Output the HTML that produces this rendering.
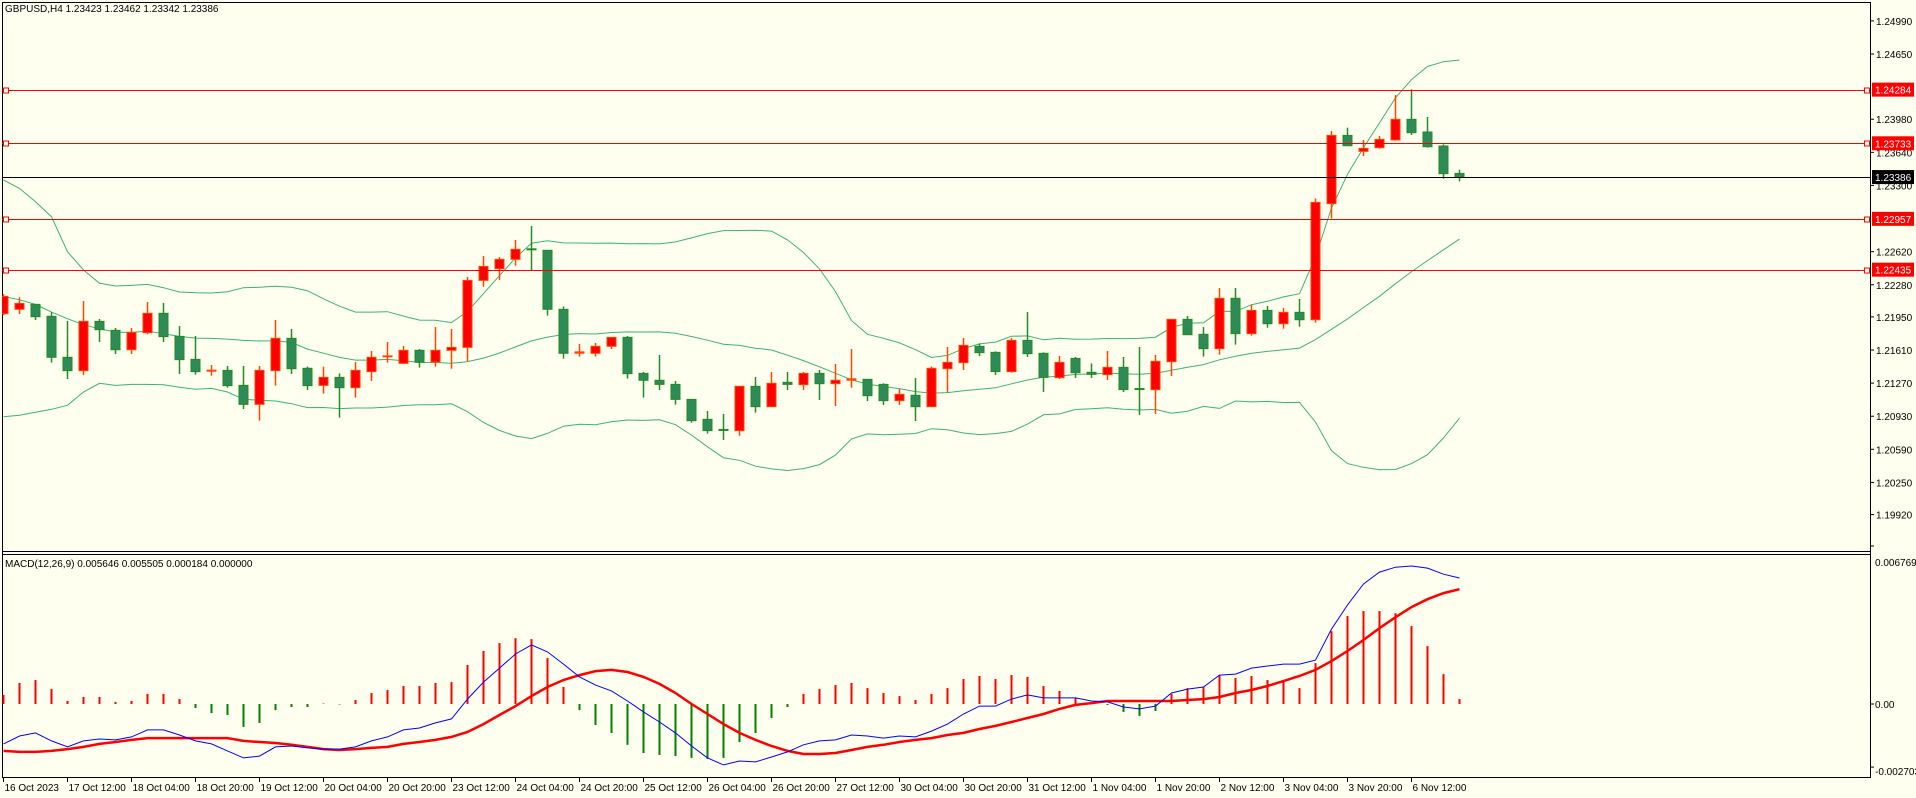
<!DOCTYPE html>
<html><head><meta charset="utf-8"><title>GBPUSD H4</title>
<style>
html,body{margin:0;padding:0;background:#fffff0;overflow:hidden}
svg{display:block;font-family:"Liberation Sans",sans-serif}
</style></head>
<body>
<svg id="chart" xmlns="http://www.w3.org/2000/svg" width="1916" height="798" viewBox="0 0 1916 798">
<rect x="0" y="0" width="1916" height="798" fill="#fffff0"/>
<defs>
<clipPath id="mainClip"><rect x="2" y="2" width="1868" height="549"/></clipPath>
<clipPath id="macdClip"><rect x="2" y="554" width="1868" height="223"/></clipPath>
</defs>
<g id="grid">
<line x1="2.5" y1="2" x2="2.5" y2="777" stroke="#000" stroke-width="1"/>
<line x1="1870.5" y1="2" x2="1870.5" y2="777" stroke="#000" stroke-width="1"/>
<line x1="2" y1="2.5" x2="1871" y2="2.5" stroke="#000" stroke-width="1"/>
<line x1="2" y1="551.5" x2="1871" y2="551.5" stroke="#000" stroke-width="1"/>
<line x1="2" y1="554.5" x2="1871" y2="554.5" stroke="#000" stroke-width="1"/>
<line x1="2" y1="777.5" x2="1871" y2="777.5" stroke="#000" stroke-width="1"/>
</g>
<g id="main" clip-path="url(#mainClip)"></g>
<g id="levels"></g>
<g id="macd" clip-path="url(#macdClip)"></g>
<g id="axes"></g>
<text x="5" y="12" font-size="10" fill="#000">GBPUSD,H4  1.23423 1.23462 1.23342 1.23386</text>
<text x="5" y="567" font-size="10" fill="#000">MACD(12,26,9) 0.005646 0.005505 0.000184 0.000000</text>
</svg>
<script>
const opens=[1.21983,1.22028,1.22079,1.21956,1.21535,1.21398,1.21904,1.21812,1.21613,1.21788,1.21987,1.21750,1.21514,1.21391,1.21401,1.21247,1.21052,1.21398,1.21730,1.21422,1.21247,1.21329,1.21223,1.21388,1.21535,1.21473,1.21607,1.21487,1.21607,1.21637,1.22325,1.22445,1.22541,1.22644,1.22634,1.22028,1.21572,1.21576,1.21648,1.21740,1.21370,1.21299,1.21257,1.21103,1.20898,1.20789,1.20782,1.21237,1.21028,1.21278,1.21254,1.21370,1.21264,1.21295,1.21309,1.21257,1.21090,1.21145,1.21028,1.21418,1.21480,1.21648,1.21586,1.21388,1.21709,1.21576,1.21326,1.21524,1.21381,1.21357,1.21432,1.21209,1.21203,1.21490,1.21925,1.21771,1.21624,1.22141,1.21778,1.22017,1.21880,1.21997,1.21921,1.23113,1.23814,1.23650,1.23688,1.23767,1.23979,1.23849,1.23705,1.23424];
const highs=[1.22185,1.22151,1.22079,1.21997,1.21908,1.22113,1.21928,1.21836,1.21836,1.22103,1.22093,1.21856,1.21754,1.21456,1.21446,1.21446,1.21446,1.21918,1.21826,1.21439,1.21439,1.21370,1.21487,1.21600,1.21692,1.21651,1.21620,1.21846,1.21826,1.22360,1.22575,1.22565,1.22740,1.22883,1.22634,1.22058,1.21672,1.21682,1.21740,1.21754,1.21384,1.21559,1.21292,1.21103,1.20984,1.20953,1.21237,1.21333,1.21384,1.21384,1.21384,1.21405,1.21466,1.21620,1.21309,1.21268,1.21209,1.21323,1.21439,1.21641,1.21733,1.21678,1.21596,1.21733,1.22000,1.21586,1.21548,1.21538,1.21473,1.21600,1.21538,1.21641,1.21559,1.21925,1.21959,1.21846,1.22247,1.22247,1.22076,1.22062,1.22041,1.22134,1.23167,1.23859,1.23893,1.23767,1.23808,1.24229,1.24287,1.24003,1.23722,1.23462];
const lows=[1.21969,1.21980,1.21918,1.21480,1.21312,1.21353,1.21692,1.21569,1.21569,1.21771,1.21692,1.21364,1.21357,1.21346,1.21223,1.21004,1.20884,1.21244,1.21364,1.21199,1.21162,1.20915,1.21121,1.21292,1.21480,1.21466,1.21429,1.21439,1.21418,1.21494,1.22260,1.22329,1.22476,1.22425,1.21963,1.21521,1.21542,1.21542,1.21620,1.21316,1.21121,1.21199,1.21049,1.20864,1.20751,1.20686,1.20730,1.20967,1.21028,1.21199,1.21199,1.21097,1.21035,1.21223,1.21086,1.21045,1.21045,1.20881,1.21028,1.21175,1.21405,1.21548,1.21353,1.21377,1.21538,1.21179,1.21312,1.21323,1.21323,1.21302,1.21179,1.20943,1.20953,1.21343,1.21767,1.21542,1.21562,1.21665,1.21757,1.21839,1.21829,1.21850,1.21891,1.22962,1.23708,1.23602,1.23678,1.23760,1.23818,1.23688,1.23369,1.23342];
const closes=[1.22161,1.22089,1.21952,1.21535,1.21398,1.21904,1.21819,1.21613,1.21791,1.21987,1.21747,1.21511,1.21388,1.21398,1.21244,1.21052,1.21401,1.21730,1.21418,1.21244,1.21329,1.21223,1.21401,1.21535,1.21545,1.21607,1.21483,1.21607,1.21637,1.22325,1.22469,1.22541,1.22644,1.22634,1.22028,1.21576,1.21586,1.21648,1.21740,1.21367,1.21299,1.21257,1.21103,1.20884,1.20782,1.20782,1.21237,1.21028,1.21268,1.21257,1.21370,1.21264,1.21299,1.21309,1.21141,1.21090,1.21155,1.21028,1.21422,1.21483,1.21658,1.21583,1.21388,1.21709,1.21572,1.21329,1.21483,1.21377,1.21360,1.21432,1.21203,1.21203,1.21494,1.21925,1.21767,1.21624,1.22141,1.21778,1.22017,1.21880,1.21997,1.21921,1.23126,1.23814,1.23708,1.23681,1.23773,1.23979,1.23842,1.23698,1.23421,1.23386];
// Bollinger values for first bars (history before chart start)
const bbUpperStart=[1.23356,1.23270,1.23133,1.22979,1.22620,1.22432,1.22295,1.22267,1.22274,1.22284,1.22250,1.22206,1.22199,1.22195,1.22209,1.22250,1.22254,1.22264,1.22254];
const bbMidStart=[1.22160,1.22126,1.22078,1.21999,1.21931,1.21869,1.21828,1.21794,1.21791,1.21804,1.21777,1.21750,1.21732,1.21729,1.21722,1.21709,1.21702,1.21705,1.21688];
const bbLowerStart=[1.20925,1.20939,1.20970,1.21001,1.21042,1.21179,1.21268,1.21247,1.21257,1.21257,1.21254,1.21227,1.21206,1.21216,1.21179,1.21104,1.21093,1.21086,1.21059];
// MACD values in 1e-5 units
const macdHist=[39,90,103,64,13,30,30,9,13,43,43,21,-17,-39,-47,-98,-81,-26,-13,-13,2,-2,17,47,60,77,77,90,94,167,227,261,282,278,197,73,-26,-90,-124,-175,-210,-218,-223,-231,-235,-231,-163,-124,-60,-13,43,64,81,90,68,47,34,17,43,68,107,120,107,124,116,77,56,26,4,-4,-34,-51,-30,43,68,73,124,111,120,103,103,68,175,312,377,398,398,389,334,248,128,21];
const macdMain=[-171,-137,-124,-158,-184,-158,-150,-154,-141,-111,-111,-133,-158,-171,-201,-231,-223,-184,-180,-188,-193,-193,-184,-158,-141,-111,-103,-81,-64,21,94,154,214,253,223,171,116,81,56,13,-34,-77,-124,-180,-231,-261,-244,-248,-227,-205,-175,-158,-154,-133,-137,-146,-137,-141,-116,-86,-43,-9,-9,21,39,26,26,26,13,9,-13,-21,-9,47,64,73,124,128,154,163,171,171,188,321,424,514,565,586,591,582,556,540];
const macdSignal=[-201,-205,-205,-201,-193,-184,-171,-163,-154,-146,-146,-146,-146,-146,-146,-158,-163,-167,-175,-184,-193,-197,-193,-188,-184,-171,-163,-154,-141,-120,-86,-47,-9,34,73,103,124,141,146,137,116,86,47,0,-43,-86,-124,-154,-180,-201,-214,-214,-210,-197,-184,-175,-163,-154,-146,-133,-124,-107,-94,-77,-60,-43,-21,-4,4,13,13,13,13,13,17,21,30,47,60,77,98,120,146,184,227,274,325,372,415,449,475,492];
const timeLabels=["16 Oct 2023","17 Oct 12:00","18 Oct 04:00","18 Oct 20:00","19 Oct 12:00","20 Oct 04:00","20 Oct 20:00","23 Oct 12:00","24 Oct 04:00","24 Oct 20:00","25 Oct 12:00","26 Oct 04:00","26 Oct 20:00","27 Oct 12:00","30 Oct 04:00","30 Oct 20:00","31 Oct 12:00","1 Nov 04:00","1 Nov 20:00","2 Nov 12:00","3 Nov 04:00","3 Nov 20:00","6 Nov 12:00"];
const priceTicks=[1.24990,1.24650,1.23980,1.23640,1.23300,1.22620,1.22280,1.21950,1.21610,1.21270,1.20930,1.20590,1.20250,1.19920];
const levelPrices=[1.24284,1.23733,1.22957,1.22435];
const lastPrice=1.23386;
const macdTickLabels=["0.006769","0.00","-0.002703"];
const macdTickValues=[0.006769,0,-0.002703];

const NS="http://www.w3.org/2000/svg";
function xAt(i){return 3.5+16*i;}
function yP(p){return 54+(1.24650-p)*9737;}
function yM(v){return 704-v*23342;}
function mk(tag,attrs,parent){const e=document.createElementNS(NS,tag);for(const k in attrs)e.setAttribute(k,attrs[k]);parent.appendChild(e);return e;}
const gMain=document.getElementById('main'),gLev=document.getElementById('levels'),gM=document.getElementById('macd'),gAx=document.getElementById('axes');

// Bollinger bands
const up=[],mid=[],lo=[];
for(let i=0;i<closes.length;i++){
  if(i<bbMidStart.length){up.push(bbUpperStart[i]);mid.push(bbMidStart[i]);lo.push(bbLowerStart[i]);continue;}
  let s=0;for(let j=i-19;j<=i;j++)s+=closes[j];const m=s/20;
  let v=0;for(let j=i-19;j<=i;j++)v+=(closes[j]-m)**2;const sd=Math.sqrt(v/20);
  up.push(m+2*sd);mid.push(m);lo.push(m-2*sd);
}
[[up,'bb-upper'],[mid,'bb-middle'],[lo,'bb-lower']].forEach(([arr,nm])=>{
  const pl=mk('polyline',{points:arr.map((p,i)=>xAt(i).toFixed(1)+','+yP(p).toFixed(1)).join(' '),fill:'none',stroke:'#3cb371','stroke-width':1},gMain);
  
  
});

// candles
for(let i=0;i<closes.length;i++){
  const o=opens[i],c=closes[i],h=highs[i],l=lows[i],x=xAt(i);
  const bull=c>=o;
  const wc=bull?'#ff4500':'#228b22';
  const g=mk('g',{},gMain);
  
  
  mk('line',{x1:x,y1:yP(h),x2:x,y2:yP(l),stroke:wc,'stroke-width':1.5},g);
  const yt=yP(Math.max(o,c)),yb=yP(Math.min(o,c));
  if(yb-yt<1.5){mk('rect',{x:x-5,y:yt-1,width:10,height:Math.max(2,yb-yt+1),fill:wc},g);}
  else mk('rect',{x:x-4.5,y:yt,width:9,height:yb-yt,fill:bull?'#ff0000':'#2e8b57',stroke:wc,'stroke-width':1},g);
}

// level lines
levelPrices.forEach((p,k)=>{
  const y=Math.round(yP(p))+0.5;
  const ln=mk('line',{x1:2,y1:y,x2:1870,y2:y,stroke:'#ff0000','stroke-width':1},gLev);
  
  
  mk('rect',{x:3.5,y:y-2.5,width:5,height:5,fill:'#fffff0',stroke:'#ff0000','stroke-width':1},gLev);
  mk('rect',{x:1864.5,y:y-2.5,width:5,height:5,fill:'#fffff0',stroke:'#ff0000','stroke-width':1},gLev);
});
{
  const y=Math.round(yP(lastPrice))+0.5;
  const ln=mk('line',{x1:2,y1:y,x2:1870,y2:y,stroke:'#000','stroke-width':1},gLev);
  
  
}

// price axis
priceTicks.forEach(p=>{
  const y=yP(p);
  mk('line',{x1:1870,y1:y,x2:1874,y2:y,stroke:'#000'},gAx);
  const t=mk('text',{x:1876,y:y+4,'font-size':10,fill:'#000'},gAx);
  t.textContent=p.toFixed(5);
  
  
});
function tag(p,bg,nm){
  const y=yP(p);
  const r=mk('rect',{x:1872,y:y-7,width:42,height:14,fill:bg},gAx);
  
  
  const t=mk('text',{x:1875,y:y+4,'font-size':10,fill:'#fff'},gAx);
  t.textContent=p.toFixed(5);
  
  
}
levelPrices.forEach((p,k)=>tag(p,'#ff0000','level-tag-'+k));
tag(lastPrice,'#000000','current-price-tag');

// MACD
const z=yM(0);
for(let i=0;i<macdHist.length;i++){
  const v=macdHist[i]*1e-5,x=xAt(i);
  const b=mk('line',{x1:x,y1:z,x2:x,y2:yM(v),stroke:v>=0?'#ff0000':'#008000','stroke-width':2},gM);
  
  
}
const sig=mk('polyline',{points:macdSignal.map((v,i)=>xAt(i)+','+yM(v*1e-5).toFixed(1)).join(' '),fill:'none',stroke:'#ff0000','stroke-width':2.5},gM);


const mn=mk('polyline',{points:macdMain.map((v,i)=>xAt(i)+','+yM(v*1e-5).toFixed(1)).join(' '),fill:'none',stroke:'#0000ff','stroke-width':1},gM);


macdTickValues.forEach((v,k)=>{
  let y=yM(v);if(k===0)y=562;if(k===2)y=771;
  mk('line',{x1:1870,y1:yM(v),x2:1874,y2:yM(v),stroke:'#000'},gAx);
  const t=mk('text',{x:1875,y:y+4,'font-size':10,fill:'#000'},gAx);
  t.textContent=macdTickLabels[k];
  
  
});

// time axis
timeLabels.forEach((s,k)=>{
  const x=xAt(k*4);
  mk('line',{x1:x,y1:777,x2:x,y2:782,stroke:'#000'},gAx);
  const t=mk('text',{x:x+1,y:791,'font-size':10,fill:'#000'},gAx);
  t.textContent=s;
  
  
});
</script>
</body></html>
